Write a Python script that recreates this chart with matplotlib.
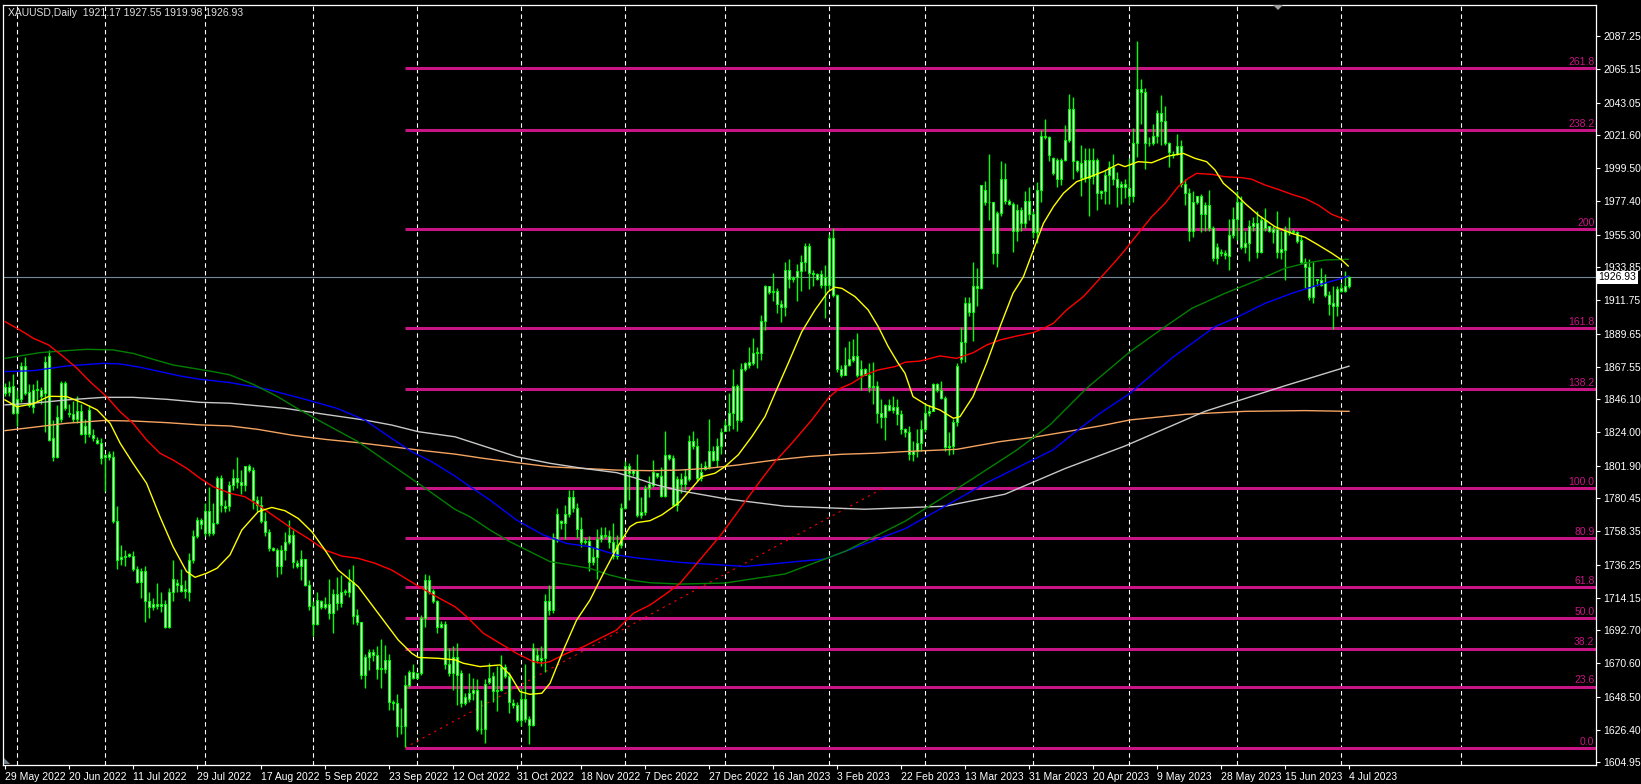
import numpy as np
import matplotlib
matplotlib.use('Agg')
import matplotlib.pyplot as plt
from matplotlib.patches import Polygon

plt.rcParams['font.family'] = ['Liberation Sans', 'DejaVu Sans']

# ---- daily candles XAUUSD (bar index 0 = 29 May 2022) ----
opn = [
    1850,1854,1855,1837,1846,1868,1851,1841,1852,1852,
    1850,1875,1820,1808,1833,1857,1837,1836,1833,1838,
    1823,1823,1822,1819,1817,1808,1808,1808,1765,1740,
    1741,1742,1742,1733,1725,1732,1712,1708,1710,1709,
    1710,1695,1718,1724,1723,1719,1718,1739,1755,1766,
    1757,1772,1757,1764,1794,1775,1775,1789,1794,1791,
    1789,1802,1799,1779,1776,1765,1758,1747,1746,1735,
    1746,1751,1756,1737,1735,1740,1723,1709,1697,1712,
    1708,1710,1704,1717,1711,1718,1718,1725,1703,1698,
    1663,1675,1678,1676,1667,1667,1673,1645,1644,1629,
    1629,1656,1665,1661,1664,1701,1726,1719,1712,1695,
    1697,1670,1664,1675,1664,1644,1647,1651,1653,1627,
    1627,1658,1662,1652,1653,1668,1662,1644,1643,1633,
    1647,1634,1630,1676,1673,1674,1712,1706,1753,1765,
    1764,1770,1781,1774,1760,1751,1752,1738,1741,1753,
    1756,1755,1751,1742,1749,1774,1802,1797,1799,1769,
    1771,1787,1789,1797,1795,1782,1809,1807,1776,1793,
    1790,1793,1818,1815,1794,1800,1801,1812,1806,1815,
    1825,1829,1837,1855,1832,1866,1869,1870,1877,1877,
    1898,1921,1917,1918,1909,1907,1932,1926,1927,1931,
    1937,1948,1930,1929,1929,1922,1922,1953,1915,1866,
    1862,1869,1872,1875,1862,1866,1862,1854,1855,1837,
    1834,1842,1839,1841,1836,1826,1824,1810,1812,1817,
    1826,1837,1838,1856,1852,1847,1814,1815,1831,1873,
    1884,1910,1904,1921,1920,1985,1977,1977,1943,1970,
    1992,1978,1976,1958,1972,1963,1978,1969,1957,1985,
    2021,2020,2006,1992,2005,2005,2018,2039,2004,1993,
    2005,1993,2005,2005,1983,1984,1995,2000,1992,1987,
    1989,1986,1981,2016,2052,2050,2016,2016,2021,2036,
    2031,2016,2009,2009,2014,1989,1983,1958,1977,1981,
    1969,1975,1960,1940,1944,1943,1941,1955,1966,1977,
    1947,1950,1961,1963,1944,1965,1961,1959,1959,1944,
    1945,1958,1957,1957,1952,1937,1934,1914,1925,1925,
    1923,1915,1910,1908,1920,1918,1921.17]
high = [
    1857,1858,1863,1852,1871,1874,1856,1856,1859,1854,
    1875,1879,1832,1842,1858,1858,1843,1845,1848,1843,
    1833,1842,1826,1821,1820,1810,1812,1812,1775,1749,
    1746,1744,1745,1735,1734,1735,1718,1714,1724,1718,
    1713,1721,1739,1727,1733,1726,1744,1759,1768,1767,
    1777,1788,1777,1795,1796,1779,1792,1800,1808,1799,
    1802,1803,1801,1782,1782,1771,1760,1748,1747,1749,
    1758,1766,1759,1739,1746,1740,1726,1712,1718,1713,
    1715,1727,1720,1728,1729,1720,1733,1736,1707,1698,
    1677,1680,1680,1682,1687,1683,1677,1646,1650,1641,
    1663,1666,1670,1665,1703,1730,1729,1720,1713,1699,
    1699,1681,1682,1684,1666,1651,1664,1661,1660,1646,
    1660,1671,1665,1669,1676,1670,1665,1647,1645,1654,
    1670,1636,1684,1681,1682,1717,1723,1757,1774,1766,
    1776,1786,1786,1777,1768,1754,1755,1748,1760,1761,
    1761,1759,1764,1756,1777,1805,1804,1800,1810,1781,
    1789,1795,1806,1797,1801,1825,1810,1809,1795,1797,
    1800,1822,1825,1820,1804,1805,1833,1815,1820,1827,
    1832,1850,1866,1856,1870,1871,1881,1887,1881,1902,
    1922,1921,1930,1920,1912,1937,1939,1928,1936,1942,
    1950,1950,1932,1930,1932,1935,1956,1960,1916,1869,
    1881,1885,1886,1890,1872,1867,1870,1871,1858,1846,
    1843,1846,1848,1846,1839,1827,1828,1818,1826,1832,
    1843,1842,1857,1857,1858,1848,1824,1833,1870,1894,
    1914,1914,1937,1933,1988,1991,2009,1977,1971,2004,
    2003,1979,1977,1976,1974,1984,1987,1971,1990,2025,
    2032,2021,2007,2006,2006,2028,2049,2047,2005,2015,
    2013,2013,2013,2006,1985,1998,2004,2009,1997,1991,
    1992,2006,2026,2084,2059,2053,2020,2029,2038,2048,
    2041,2017,2011,2022,2018,1992,1986,1984,1981,1982,
    1977,1985,1961,1950,1946,1945,1966,1974,1984,1981,
    1958,1965,1967,1971,1968,1973,1961,1961,1971,1958,
    1961,1967,1959,1958,1955,1940,1939,1937,1926,1933,
    1929,1918,1921,1921,1923,1931,1927.55]
low = [
    1848,1848,1836,1828,1844,1849,1841,1837,1844,1843,
    1824,1818,1805,1807,1831,1839,1834,1831,1830,1822,
    1817,1821,1818,1816,1803,1785,1806,1764,1733,1736,
    1735,1741,1732,1724,1714,1698,1701,1706,1707,1705,
    1694,1694,1712,1718,1718,1714,1712,1737,1754,1760,
    1755,1755,1756,1763,1771,1771,1772,1786,1787,1783,
    1785,1798,1773,1772,1764,1755,1745,1745,1728,1730,
    1739,1750,1734,1734,1726,1722,1706,1689,1696,1707,
    1707,1700,1691,1706,1708,1716,1715,1697,1696,1660,
    1654,1666,1672,1660,1654,1664,1640,1640,1622,1624,
    1615,1655,1660,1660,1663,1695,1717,1711,1691,1694,
    1667,1662,1653,1643,1642,1643,1645,1646,1626,1624,
    1618,1657,1645,1639,1652,1661,1638,1641,1632,1629,
    1632,1617,1629,1671,1669,1665,1703,1704,1751,1760,
    1753,1768,1771,1754,1748,1750,1732,1736,1727,1751,
    1754,1747,1740,1740,1747,1773,1779,1795,1768,1767,
    1769,1781,1788,1794,1781,1781,1806,1775,1772,1784,
    1786,1792,1813,1792,1792,1799,1800,1805,1801,1810,
    1825,1825,1826,1825,1831,1865,1867,1869,1867,1872,
    1892,1916,1911,1903,1897,1901,1920,1924,1911,1918,
    1931,1919,1921,1925,1920,1900,1919,1914,1864,1861,
    1862,1868,1871,1861,1852,1862,1851,1843,1830,1827,
    1819,1838,1837,1829,1823,1821,1806,1805,1808,1812,
    1824,1835,1838,1851,1846,1812,1809,1810,1828,1870,
    1871,1901,1885,1908,1919,1975,1965,1936,1934,1968,
    1976,1975,1944,1951,1958,1960,1965,1953,1950,1977,
    2019,2004,1995,1987,1988,2004,2017,1992,1997,1981,
    1990,1968,1989,1972,1979,1976,1976,1988,1974,1976,
    1980,1976,1977,2007,2029,1999,2014,2015,2016,2015,
    2015,2000,2006,2008,1987,1975,1951,1954,1976,1957,
    1958,1958,1938,1936,1941,1939,1932,1953,1952,1946,
    1943,1938,1958,1940,1943,1958,1957,1950,1940,1939,
    1925,1955,1956,1950,1936,1920,1912,1910,1921,1921,
    1914,1902,1893,1901,1917,1917,1919.98]
close = [
    1854,1851,1837,1846,1868,1850,1842,1852,1853,1848,
    1871,1819,1808,1834,1857,1840,1836,1833,1838,1823,
    1828,1839,1820,1817,1807,1809,1810,1765,1739,1741,
    1742,1743,1733,1725,1732,1712,1708,1710,1709,1710,
    1695,1718,1727,1723,1719,1720,1739,1755,1766,1763,
    1772,1757,1764,1794,1776,1774,1789,1794,1791,1789,
    1802,1799,1779,1776,1765,1758,1747,1746,1735,1746,
    1751,1756,1738,1735,1740,1723,1709,1697,1713,1708,
    1710,1704,1717,1711,1718,1719,1725,1702,1698,1663,
    1675,1678,1676,1667,1667,1673,1645,1644,1629,1629,
    1656,1665,1661,1664,1701,1726,1718,1712,1695,1697,
    1670,1664,1675,1663,1644,1648,1651,1653,1627,1627,
    1657,1661,1652,1653,1668,1662,1645,1643,1633,1647,
    1634,1630,1681,1673,1674,1712,1706,1753,1770,1764,
    1770,1781,1774,1760,1751,1752,1738,1741,1753,1756,
    1755,1751,1742,1749,1774,1802,1797,1799,1769,1771,
    1787,1790,1798,1795,1782,1809,1807,1776,1793,1790,
    1795,1818,1815,1794,1798,1802,1812,1806,1815,1824,
    1829,1837,1855,1832,1866,1870,1871,1877,1877,1898,
    1921,1917,1918,1909,1907,1932,1926,1926,1931,1937,
    1948,1930,1929,1926,1922,1927,1953,1915,1866,1862,
    1869,1873,1875,1862,1866,1862,1854,1855,1837,1834,
    1842,1839,1841,1836,1826,1824,1810,1812,1817,1826,
    1837,1838,1856,1852,1847,1814,1815,1831,1868,1884,
    1910,1904,1921,1920,1988,1977,1977,1943,1970,1992,
    1978,1976,1958,1972,1963,1978,1969,1957,1985,2021,
    2020,2008,1996,2005,1992,2018,2039,2004,1998,2003,
    1993,2005,1994,1983,1984,1995,2000,1992,1987,1989,
    1987,1981,2016,2052,2050,2016,2016,2021,2036,2031,
    2016,2010,2008,2014,1989,1983,1958,1977,1981,1969,
    1975,1960,1940,1947,1943,1942,1955,1966,1977,1947,
    1950,1961,1963,1944,1965,1960,1958,1957,1944,1946,
    1958,1957,1958,1951,1937,1934,1914,1921,1926,1922,
    1915,1909,1908,1919,1918,1921,1926.93]

# ---- moving averages: (bar, price) ----
ma_yellow = [(0,1845.6),(3,1841),(7,1843),(11,1848),(15.4,1847.8),(19.6,1843.4),(23,1839),
    (26.3,1830),(28.8,1816.8),(32,1803.5),(35.4,1790.2),(38.75,1768),(42,1748.2),(45.4,1731.6),
    (47.5,1727.8),(50.4,1730.5),(53,1733.8),(56.25,1742.7),(59.2,1759.2),(63.3,1771.4),
    (66.7,1774.2),(70,1772),(73.3,1766.9),(76.7,1758.1),(80,1745.9),(83.3,1732.6),(88.3,1721.6),
    (93.3,1703.9),(98.3,1686.2),(101.7,1677.3),(103.3,1674.6),(108.3,1674),(112.5,1673),
    (114.6,1670.7),(118.75,1668.5),(123.75,1669.6),(126.25,1663),(128.75,1651.9),(131.25,1650.1),
    (134.2,1650.8),(136.25,1657.4),(139.6,1679.5),(142.9,1699.4),(146.25,1712.7),(149.6,1730.4),
    (152.9,1747),(156.25,1761.4),(157.9,1764.1),(161.25,1765.4),(164.2,1769.2),(167.1,1774.7),
    (168.75,1778),(174.2,1794.7),(177.5,1796.9),(180,1801.3),(183.3,1809.1),(186.7,1821.2),
    (190,1834.5),(192.5,1850),(195.8,1869.9),(199.2,1890.9),(202.5,1905.3),(205.8,1917.5),
    (207.5,1920.4),(209.2,1919.7),(212.5,1914.2),(215.8,1905.3),(218.3,1894.3),(220.8,1881),
    (223.3,1869.9),(225,1863.3),(227,1847.8),(230.4,1842.2),(233.75,1838.9),(237.1,1833.4),
    (238.75,1834.5),(242,1847.8),(245.4,1869.9),(248.75,1894.2),(252,1916.4),(254.6,1927.4),
    (257.1,1945.1),(259.6,1962.8),(262.1,1973.9),(264.6,1982.8),(267.9,1990.5),(271.25,1993.8),
    (274.6,1997.2),(278.3,2002.2),(280,2000.5),(283.3,2003.8),(286.7,2003.1),(290.8,2007.5),
    (294.6,2009.3),(297.5,2006),(300.4,2003.8),(302.5,1998.3),(304.6,1989.4),(307.5,1982.8),
    (310,1976.1),(313.3,1968.4),(317.5,1960.6),(321.7,1956.2),(325,1953.6),(328.3,1948.5),
    (331.7,1943),(334.2,1938.5),(335.8,1934.5)]
ma_red = [(0,1897.6),(3.75,1892),(7.1,1886.5),(10.9,1882.1),(14.6,1874.3),(18,1866.6),
    (21.25,1857.7),(25.4,1847.8),(28.75,1837.8),(32,1830.1),(35.4,1819),(38.75,1810.2),
    (42,1805.7),(45.4,1800.2),(48.75,1793.6),(52,1788),(56.25,1783.6),(60,1781.3),(63.3,1775.8),
    (67.5,1768),(71.7,1760.3),(75.8,1753.6),(80,1745.9),(84.2,1741.9),(88.3,1740.4),(92.5,1737.1),
    (96.7,1732.6),(100.8,1726),(105,1719.3),(109.2,1713),(112.5,1708.3),(115.4,1701.7),
    (119.6,1690.6),(123.75,1684),(127.9,1677.3),(132.1,1671.8),(134.2,1670.7),(136.25,1671.8),
    (140.4,1677.3),(144.6,1681.7),(148.75,1687.3),(152.9,1692.8),(157.1,1703.9),(161.25,1709.4),
    (165.4,1717.1),(168.75,1723.8),(179,1756),(189,1792.5),(192.5,1804.6),(196.7,1816.8),
    (201.7,1832.3),(205.8,1846.7),(208.3,1852.7),(211.7,1856.6),(215,1862.2),(218.3,1865.5),
    (222.5,1867.7),(225,1870.6),(228.75,1871.4),(233.75,1874.8),(237.9,1873.2),(242.1,1877),
    (245.4,1882),(248.75,1885.4),(252.9,1888),(257.1,1890.3),(259.6,1893.1),(262.1,1896.5),
    (265.4,1905.3),(269.6,1914.2),(273.75,1926.3),(277.9,1938.5),(280,1945.1),(283.3,1956.2),
    (286.7,1967.3),(290,1976.1),(293.3,1987.2),(295.8,1992.7),(297.9,1996),(301.7,1995.4),
    (305,1993.8),(309.2,1993.2),(311.7,1992.1),(315,1988.3),(318.3,1985.4),(321.7,1982.1),
    (325,1979.4),(328.3,1975),(331.7,1968.8),(335.8,1964.6)]
ma_green = [(0,1873.2),(3.75,1874.8),(8.75,1877),(15.4,1878.3),(20.4,1879.2),(27,1878.8),
    (32,1876.5),(37,1872.6),(42,1868.8),(47,1866.6),(52,1864.4),(56.25,1862.2),(62,1856),
    (68,1848),(73,1840),(78.3,1832.2),(88.3,1817.8),(96.7,1802.3),(103.3,1790.2),(109.2,1779.1),
    (112.5,1772.9),(116.25,1768),(121.25,1759.2),(126.25,1751.4),(131.25,1744.8),(136.25,1738.2),
    (141.25,1736),(146.25,1733.7),(151.25,1729.3),(156.25,1726),(161.25,1724.2),(168.75,1723.3),
    (180,1724),(195,1730),(210,1745),(225,1765),(240,1790),(253,1812.4),(261.25,1829),
    (270.4,1853.3),(281.25,1877.6),(290,1894.2),(296.7,1906.4),(305,1916.4),(313.3,1925.2),
    (320,1933),(325,1936.3),(330,1938.5),(335.8,1939)]
ma_blue = [(0,1864.4),(7,1865),(15.4,1868.1),(24.6,1869.9),(28.75,1869.5),(33.75,1867.3),
    (38.75,1864.4),(43.75,1861.5),(48.75,1859.3),(56.25,1857.1),(65,1853),(75,1846),(83,1840),
    (90,1832.2),(96.7,1820),(101.7,1811.2),(106.7,1804.5),(112.5,1795),(116.25,1788),
    (121.25,1779.1),(127.9,1765.8),(134.6,1755.9),(140.4,1750.3),(146.25,1748.1),(152.9,1742.6),
    (158.75,1740.4),(168.75,1737.7),(185,1735),(205,1740),(225,1760),(245,1790),(262,1812.4),
    (268.75,1826.8),(273.75,1836.7),(281.25,1850),(292,1874),(302.5,1894.2),(308.3,1900.9),
    (315,1909.7),(321.7,1916.4),(328.3,1921.9),(334.2,1926.3),(335.8,1927.9)]
ma_white = [(0,1842.3),(7,1843.4),(15.4,1845.6),(24.6,1847.3),(32,1847.3),(40.4,1846),
    (48.75,1844),(56.25,1843.4),(70,1840),(80,1836),(90,1832.2),(96.7,1828.9),(103.3,1824.5),
    (112.5,1821.1),(119.6,1815),(127.9,1807.9),(136.25,1803.5),(144.6,1800.1),(152.9,1797.3),
    (157.9,1793.5),(162.9,1789.1),(168.75,1785.3),(180,1780),(195,1775),(215,1773),(235,1775),
    (250,1783),(265,1800),(280,1815),(300,1838),(320,1855),(336,1868)]
ma_orange = [(0,1825.2),(7,1827.4),(15.4,1830.1),(24.6,1831.9),(32,1831.6),(40.4,1830.5),
    (48.75,1829),(56.25,1828.3),(63.3,1826),(71.7,1822.2),(80,1819.4),(88.3,1817.2),(96.7,1814.5),
    (105,1811.8),(112.5,1809.6),(119.6,1806.8),(127.9,1803.9),(136.25,1801.2),(144.6,1800.1),
    (152.9,1799),(161.25,1798.6),(168.75,1799),(175.8,1800.2),(183.3,1802.4),(192.5,1805.7),
    (200.8,1808),(209.2,1809.5),(217.5,1810.2),(225,1811.3),(238,1812.8),(248.75,1817.9),
    (257.1,1820.8),(265.4,1824.5),(273.75,1828.3),(281.25,1832.3),(295,1836),(310,1838),
    (325,1838.5),(336,1838)]

# ---- fibonacci retracement ----
fib_low, fib_high = 1614.6, 1786.9
fib_levels = [0.0, 23.6, 38.2, 50.0, 61.8, 80.9, 100.0, 138.2, 161.8, 200.0, 238.2, 261.8]
fib_labels = ['0.0', '23.6', '38.2', '50.0', '61.8', '80.9', '100.0', '138.2', '161.8', '200', '238.2', '261.8']
fib_start_bar, fib_end_bar = 100, 219.5

price_ticks = [2087.25, 2065.15, 2043.05, 2021.60, 1999.50, 1977.40, 1955.30, 1933.85, 1911.75,
               1889.65, 1867.55, 1846.10, 1824.00, 1801.90, 1780.45, 1758.35, 1736.25, 1714.15,
               1692.70, 1670.60, 1648.50, 1626.40, 1604.95]
date_labels = ['29 May 2022', '20 Jun 2022', '11 Jul 2022', '29 Jul 2022', '17 Aug 2022', '5 Sep 2022',
               '23 Sep 2022', '12 Oct 2022', '31 Oct 2022', '18 Nov 2022', '7 Dec 2022', '27 Dec 2022',
               '16 Jan 2023', '3 Feb 2023', '22 Feb 2023', '13 Mar 2023', '31 Mar 2023', '20 Apr 2023',
               '9 May 2023', '28 May 2023', '15 Jun 2023', '4 Jul 2023']
date_bars = [16 * k for k in range(len(date_labels))]
month_grid = [3, 25, 50, 77, 103, 129, 155, 180, 206, 230, 257, 281, 308, 334, 364]
last_price = 1926.93

# ---- layout (pixels) ----
W, H = 1641, 784
L, R, T, B = 3, 1596, 5, 765
X0, PX = 5, 4.0

fig = plt.figure(figsize=(W / 100, H / 100), dpi=100, facecolor='black')
ax = fig.add_axes([L / W, 1 - B / H, (R - L) / W, (B - T) / H])
ax.set_facecolor('black')

k = (2087.25 - 1604.95) / (762.3 - 36)
ax.set_xlim((L - X0) / PX, (R - X0) / PX)
ax.set_ylim(1604.95 - (B - 762.3) * k, 1604.95 + (762.3 - T) * k)

for g in month_grid:
    ax.axvline(g, color='white', lw=0.8, ls=(0, (4, 3)), zorder=1)

# fib levels
rng = fib_high - fib_low
for lv, lab in zip(fib_levels, fib_labels):
    p = fib_low + rng * lv / 100
    ax.plot([fib_start_bar, ax.get_xlim()[1]], [p, p], color='#C71585', lw=2.2,
            solid_capstyle='butt', zorder=2)
    ax.text(ax.get_xlim()[1] - 0.4, p + 0.8, lab, color='#C71585', fontsize=7.5,
            ha='right', va='bottom', zorder=6)
ax.plot([fib_start_bar, fib_end_bar], [fib_low, fib_high], color='#ff0000', lw=0.8,
        ls=(0, (2, 4)), zorder=3)

# current price line
ax.axhline(last_price, color='#778899', lw=0.8, zorder=2)

# candles
o = np.array(opn); h = np.array(high); lo = np.array(low); c = np.array(close)
idx = np.arange(len(c))
top = np.maximum(o, c); bot = np.minimum(o, c)
ax.vlines(idx, np.minimum(lo, bot), np.maximum(h, top), color='#00ff00', lw=1, zorder=4)
ax.bar(idx, np.maximum(top - bot, 0.3), bottom=bot, width=0.55, color='white',
       edgecolor='#00ff00', linewidth=0.8, zorder=5)

# moving averages
for pts, col in [(ma_orange, '#f4a460'), (ma_white, '#c8c8c8'), (ma_blue, '#0000ff'),
                 (ma_green, '#008000'), (ma_red, '#ff0000'), (ma_yellow, '#ffff00')]:
    xs, ys = zip(*pts)
    ax.plot(xs, ys, color=col, lw=1.0, zorder=6)

# axes styling
for s in ax.spines.values():
    s.set_color('white')
    s.set_linewidth(0.9)
ax.yaxis.tick_right()
ax.set_yticks(price_ticks)
ax.set_yticklabels(['%.2f' % v for v in price_ticks])
ax.tick_params(axis='y', colors='white', labelcolor='white', labelsize=7.5, length=3, width=0.8, pad=2)
ax.set_xticks(date_bars)
ax.set_xticklabels(date_labels, ha='left')
ax.tick_params(axis='x', colors='white', labelcolor='white', labelsize=7.5, length=3, width=0.8, pad=2)

ax.text(1.0015, last_price, '%.2f' % last_price, transform=ax.get_yaxis_transform(),
        fontsize=7.5, color='black', ha='left', va='center', zorder=10,
        bbox=dict(facecolor='white', edgecolor='none', pad=1.2))

fig.text(8 / W, 1 - 13 / H, 'XAUUSD,Daily  1921.17 1927.55 1919.98 1926.93', color='#e0e0e0',
         fontsize=7.5, ha='left', va='center')

# small MT4 markers
fig.patches.append(Polygon([[1273 / W, 1 - 5 / H], [1283 / W, 1 - 5 / H], [1278 / W, 1 - 10 / H]],
                           closed=True, transform=fig.transFigure, facecolor='#a0a0a0', edgecolor='none'))
fig.patches.append(Polygon([[4 / W, 1 - 758 / H], [4 / W, 1 - 764 / H], [10 / W, 1 - 764 / H]],
                           closed=True, transform=fig.transFigure, facecolor='#708090', edgecolor='none'))

fig.savefig('out.png', dpi=100, facecolor='black')
